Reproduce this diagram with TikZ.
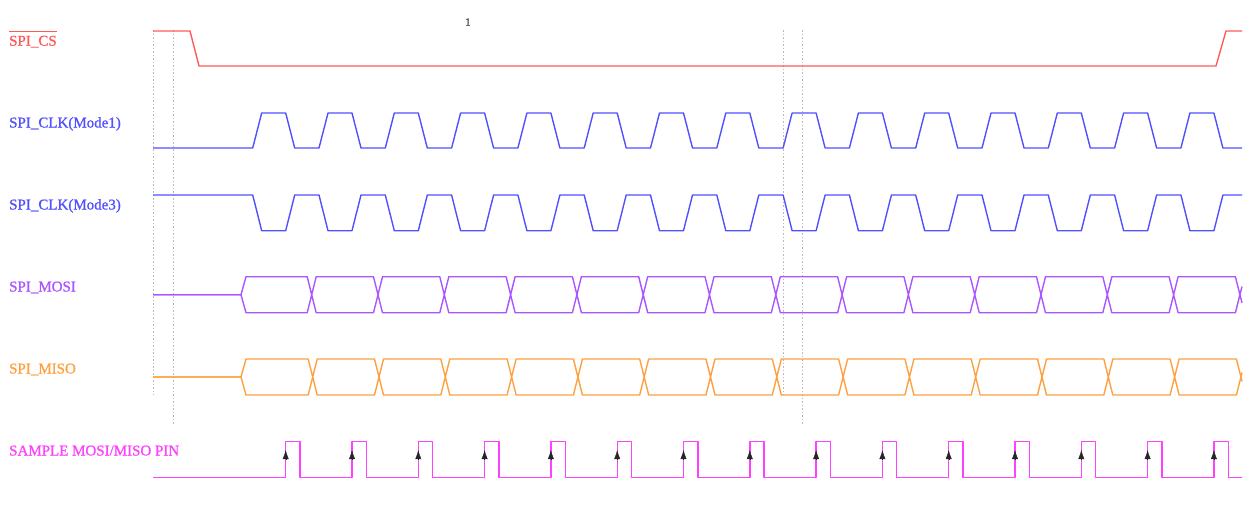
\documentclass[tikz,border=0pt]{standalone}
\usepackage{fontspec}
\setmainfont{Liberation Serif}
\newfontfamily\lblfont{Liberation Serif}[FakeBold=1]
\usepackage{xcolor}
\usepackage{tikz}
\usetikzlibrary{arrows.meta}

\definecolor{cscol}{RGB}{255,90,90}
\definecolor{clkcol}{RGB}{80,80,255}
\definecolor{mosicol}{RGB}{170,85,255}
\definecolor{misocol}{RGB}{255,160,64}
\definecolor{smpcol}{RGB}{255,64,255}

% bar over a label, baseline kept
\newcommand{\ovbar}[1]{\leavevmode\vbox{\hrule height 0.9pt\kern 4pt\hbox{#1}}}

\begin{document}
\begin{tikzpicture}[x=1pt,y=-1pt,>=Latex,
    wave/.style={line width=1.4pt,line join=round},
    lbl/.style={anchor=base west,inner sep=0pt,font=\lblfont\fontsize{15}{18}\selectfont},
    guide/.style={gray!55,line width=0.9pt,dash pattern=on 1.5pt off 2pt}]
  \useasboundingbox (0,0) rectangle (1255,504);

  % guide lines
  \draw[guide] (153,30) -- (153,395);
  \draw[guide] (173,30) -- (173,425);
  \draw[guide] (783,30) -- (783,395);
  \draw[guide] (802,30) -- (802,425);

  \node[inner sep=0pt,font=\lblfont\fontsize{11}{12}\selectfont,text=black!75] (mark) at (468,22) {1};

  % labels
  \node[lbl,text=cscol]   (cs)   at (9,45.7)  {\ovbar{SPI\_CS}};
  \node[lbl,text=clkcol]  (clka) at (9,127.5) {SPI\_CLK(Mode1)};
  \node[lbl,text=clkcol]  (clkb) at (9,209.5) {SPI\_CLK(Mode3)};
  \node[lbl,text=mosicol] (mosi) at (9,291.5) {SPI\_MOSI};
  \node[lbl,text=misocol] (miso) at (9,373.5) {SPI\_MISO};
  \node[lbl,text=smpcol]  (smp)  at (9,455.5) {SAMPLE MOSI/MISO PIN};

  % chip select
  \draw[wave,cscol] (153,31) -- (190,31) -- (199,66) -- (1216,66) -- (1226,31) -- (1242,31);

  % clock, mode 1 and mode 3
  \draw[wave,clkcol] (153,148) foreach \k in {0,...,14}{
      -- ({252.7+\k*66.3},148) -- ({261.7+\k*66.3},113)
      -- ({285.7+\k*66.3},113) -- ({294.7+\k*66.3},148)} -- (1242,148);
  \draw[wave,clkcol] (153,195) foreach \k in {0,...,14}{
      -- ({252.7+\k*66.3},195) -- ({261.7+\k*66.3},230.7)
      -- ({285.7+\k*66.3},230.7) -- ({294.7+\k*66.3},195)} -- (1242,195);

  % data lines
  \foreach \s in {-18,18}{
    \draw[wave,mosicol] (153,294.7) -- (241,294.7) -- (246,294.7+\s)
      foreach \k in {0,...,13}{
        -- ({307.2+\k*66.3},294.7+\s) -- ({311.7+\k*66.3},294.7)
        -- ({316.2+\k*66.3},294.7+\s)}
      -- (1235.4,294.7+\s) -- (1239.9,294.7) -- (1242,294.7+0.45*\s);
    \draw[wave,misocol] (153,377) -- (241,377) -- (246,377+\s)
      foreach \k in {0,...,13}{
        -- ({308.2+\k*66.3},377+\s) -- ({312.7+\k*66.3},377)
        -- ({317.2+\k*66.3},377+\s)}
      -- (1236.4,377+\s) -- (1240.9,377) -- (1242,377+0.25*\s);
  }

  % sample points
  \draw[wave,smpcol] (153,477.5) foreach \k in {0,...,14}{
      -- ({285.7+\k*66.3},477.5) -- ({285.7+\k*66.3},441.5)
      -- ({300+\k*66.3},441.5) -- ({300+\k*66.3},477.5)} -- (1242,477.5);
  \foreach \k in {0,...,14}
    \draw[->,>={Latex[length=9pt,width=6pt]},black!85] ({285.7+\k*66.3},459) -- ({285.7+\k*66.3},450);
\end{tikzpicture}
\end{document}
